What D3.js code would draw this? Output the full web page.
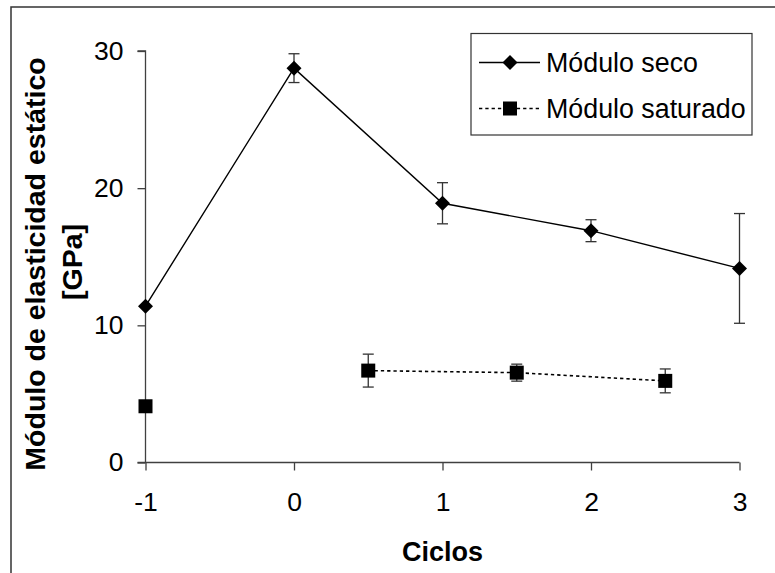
<!DOCTYPE html>
<html>
<head>
<meta charset="utf-8">
<script src="https://cdn.jsdelivr.net/npm/d3@7"></script>
<style>
  html, body { margin: 0; padding: 0; background: #fff; }
  svg { display: block; font-family: "Liberation Sans", Arial, sans-serif; }
</style>
</head>
<body>
<svg id="chart" width="775" height="573"></svg>
<script>
// ---- data ----
const xTicks = [-1, 0, 1, 2, 3];
const yTicks = [0, 10, 20, 30];

const secoX = [-1, 0, 1, 2, 3];
const secoY = [11.4, 28.75, 18.9, 16.9, 14.15];
const secoErr = [0, 1.05, 1.5, 0.8, 4.0];

const satX = [-1, 0, 0.5, 1.5, 2.5];
const satY = [4.1, null, 6.7, 6.55, 5.95];
const satErr = [0, 0, 1.2, 0.62, 0.87];

const seriesNames = ["Módulo seco", "Módulo saturado"];
const xTitle = "Ciclos";
const yTitle = ["Módulo de elasticidad estático", "[GPa]"];

// ---- layout ----
const svg = d3.select("#chart");
const x = d3.scaleLinear().domain([-1, 3]).range([145.5, 739.5]);
const y = d3.scaleLinear().domain([0, 30]).range([462.5, 51]);
const axisColor = "#404040";

// outer frame (only top/left visible)
svg.append("rect").attr("x", 11).attr("y", 7).attr("width", 800).attr("height", 600)
  .attr("fill", "none").attr("stroke", "#333").attr("stroke-width", 1.5);

// y axis
const yAxis = svg.append("g").attr("transform", `translate(${x(-1)},0)`)
  .call(d3.axisLeft(y).tickValues(yTicks).tickSize(8).tickPadding(14).tickFormat(d3.format("d")));
yAxis.select(".domain").attr("d", `M0,${y(0)}V${y(30)}H-8`).attr("stroke", axisColor).attr("stroke-width", 1.3);
yAxis.selectAll(".tick line").attr("stroke", axisColor).attr("stroke-width", 1.3);
yAxis.selectAll(".tick text").attr("font-size", 26.5).attr("fill", "#000").attr("font-family", "Liberation Sans, Arial, sans-serif");

// x axis
const xAxis = svg.append("g").attr("transform", `translate(0,${y(0)})`)
  .call(d3.axisBottom(x).tickValues(xTicks).tickSize(8).tickPadding(22).tickFormat(d3.format("d")));
xAxis.select(".domain").attr("d", `M${x(-1) - 8},0H${x(3)}`).attr("stroke", axisColor).attr("stroke-width", 1.3);
xAxis.selectAll(".tick line").attr("stroke", axisColor).attr("stroke-width", 1.3);
xAxis.selectAll(".tick text").attr("font-size", 26.5).attr("fill", "#000").attr("font-family", "Liberation Sans, Arial, sans-serif")
  .text(d => d < 0 ? "-" + Math.abs(d) : d);

// titles
svg.append("text").attr("x", (x(-1) + x(3)) / 2).attr("y", 561).attr("text-anchor", "middle")
  .attr("font-size", 27).attr("font-weight", "bold").text(xTitle);
const yc = 264;
svg.append("text").attr("transform", `translate(45,${yc}) rotate(-90)`).attr("text-anchor", "middle")
  .attr("font-size", 28.5).attr("font-weight", "bold").text(yTitle[0]);
svg.append("text").attr("transform", `translate(82,${yc - 2}) rotate(-90)`).attr("text-anchor", "middle")
  .attr("font-size", 28.5).attr("font-weight", "bold").text(yTitle[1]);

// build point arrays
const seco = secoX.map((v, i) => ({ x: v, y: secoY[i], e: secoErr[i] }));
const sat = satX.map((v, i) => ({ x: v, y: satY[i], e: satErr[i] }));

// lines
const lineSeco = d3.line().x(d => x(d.x)).y(d => y(d.y));
svg.append("path").attr("d", lineSeco(seco)).attr("fill", "none").attr("stroke", "#000").attr("stroke-width", 1.4);
const lineSat = d3.line().defined(d => d.y !== null).x(d => x(d.x)).y(d => y(d.y));
svg.append("path").attr("d", lineSat(sat.filter((d, i) => i > 0))).attr("fill", "none")
  .attr("stroke", "#000").attr("stroke-width", 1.6).attr("stroke-dasharray", "3.3,3");

// error bars
function errBars(data) {
  const g = svg.append("g").attr("stroke", "#333").attr("stroke-width", 1.3);
  data.filter(d => d.y !== null && d.e > 0).forEach(d => {
    const cx = x(d.x), t = y(d.y + d.e), b = y(d.y - d.e);
    g.append("line").attr("x1", cx).attr("x2", cx).attr("y1", t).attr("y2", b);
    g.append("line").attr("x1", cx - 5.5).attr("x2", cx + 5.5).attr("y1", t).attr("y2", t);
    g.append("line").attr("x1", cx - 5.5).attr("x2", cx + 5.5).attr("y1", b).attr("y2", b);
  });
}
errBars(seco);
errBars(sat);

// markers
const diamond = (cx, cy) => `M${cx},${cy - 7.5}L${cx + 7.5},${cy}L${cx},${cy + 7.5}L${cx - 7.5},${cy}Z`;
svg.append("g").selectAll("path").data(seco).join("path")
  .attr("d", d => diamond(x(d.x), y(d.y))).attr("fill", "#000");
svg.append("g").selectAll("rect").data(sat.filter(d => d.y !== null)).join("rect")
  .attr("x", d => x(d.x) - 7).attr("y", d => y(d.y) - 7).attr("width", 14).attr("height", 14).attr("fill", "#000");

// legend
const lg = svg.append("g");
lg.append("rect").attr("x", 471).attr("y", 33.5).attr("width", 281).attr("height", 101.5)
  .attr("fill", "#fff").attr("stroke", "#333").attr("stroke-width", 1.2);
const rows = [62.5, 108.5];
lg.append("line").attr("x1", 479).attr("x2", 540).attr("y1", rows[0]).attr("y2", rows[0])
  .attr("stroke", "#000").attr("stroke-width", 1.4);
lg.append("path").attr("d", diamond(510, rows[0])).attr("fill", "#000");
lg.append("line").attr("x1", 479).attr("x2", 540).attr("y1", rows[1]).attr("y2", rows[1])
  .attr("stroke", "#000").attr("stroke-width", 1.6).attr("stroke-dasharray", "3.3,3");
lg.append("rect").attr("x", 503).attr("y", rows[1] - 7).attr("width", 14).attr("height", 14).attr("fill", "#000");
seriesNames.forEach((n, i) => {
  lg.append("text").attr("x", 546).attr("y", rows[i] + 9.5).attr("font-size", 26.8).attr("fill", "#000").text(n);
});
</script>
</body>
</html>
